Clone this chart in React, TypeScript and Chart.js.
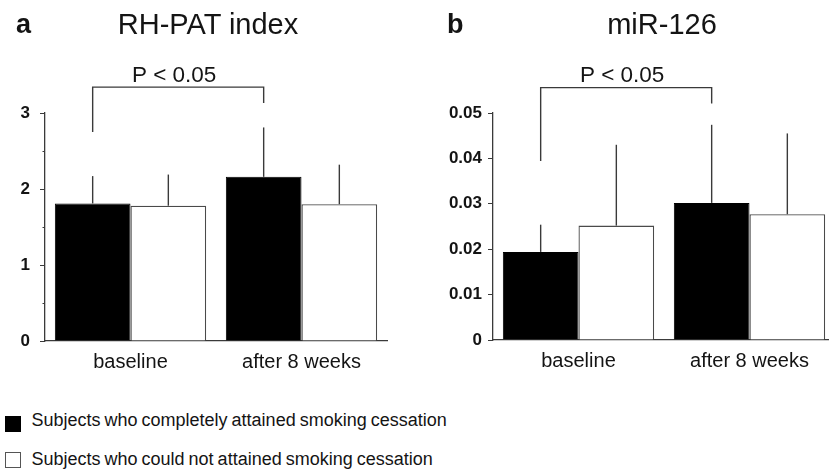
import React, { useEffect, useRef } from 'react';
import { Chart, registerables } from 'chart.js';

Chart.register(...registerables);

// ---------- data ----------
const categories = ['baseline', 'after 8 weeks'];
const seriesNames = [
  'Subjects who completely attained smoking cessation',
  'Subjects who could not attained smoking cessation',
];

// Panel a: RH-PAT index (mean, SD)
const rhpatCessation = [1.81, 2.16];
const rhpatCessationSD = [0.36, 0.65];
const rhpatNonCessation = [1.78, 1.8];
const rhpatNonCessationSD = [0.41, 0.52];
const rhpatAxis = [0, 3, 1]; // min, max, step
const rhpatMinorTicks = [0.5, 1.5, 2.5];
const rhpatBracket = [2.75, 3.34, 3.13]; // left leg end, bar, right leg end

// Panel b: miR-126 (mean, SD)
const mirCessation = [0.0194, 0.0302];
const mirCessationSD = [0.006, 0.0172];
const mirNonCessation = [0.0252, 0.0277];
const mirNonCessationSD = [0.0178, 0.0178];
const mirAxis = [0, 0.05, 0.01];
const mirMinorTicks: number[] = [];
const mirBracket = [0.0394, 0.0556, 0.0521];

const pLabel = 'P < 0.05';
const panelTitles = ['RH-PAT index', 'miR-126'];
const panelLetters = ['a', 'b'];

// ---------- styling ----------
const FONT = "'Liberation Sans', Arial, sans-serif";
const TEXT = '#141414';
const LINE = '#3a3a3a';

const errorBarPlugin = {
  id: 'errorBars',
  afterDatasetsDraw(chart: any) {
    const ctx = chart.ctx;
    const y = chart.scales.y;
    ctx.save();
    ctx.strokeStyle = LINE;
    ctx.lineWidth = 1.4;
    chart.data.datasets.forEach((ds: any, i: number) => {
      const meta = chart.getDatasetMeta(i);
      meta.data.forEach((el: any, j: number) => {
        const top = y.getPixelForValue(ds.data[j] + ds.errors[j]);
        ctx.beginPath();
        ctx.moveTo(el.x, el.y);
        ctx.lineTo(el.x, top);
        ctx.stroke();
      });
    });
    ctx.restore();
  },
};

const extrasPlugin = {
  id: 'extras',
  afterDraw(chart: any, _args: any, opts: any) {
    const ctx = chart.ctx;
    const y = chart.scales.y;
    const area = chart.chartArea;
    ctx.save();
    // minor ticks
    ctx.strokeStyle = LINE;
    ctx.lineWidth = 1;
    (opts.minor || []).forEach((v: number) => {
      const py = Math.round(y.getPixelForValue(v)) + 0.5;
      ctx.beginPath();
      ctx.moveTo(area.left - 2.5, py);
      ctx.lineTo(area.left, py);
      ctx.stroke();
    });
    // significance bracket between the two "cessation" bars
    const meta = chart.getDatasetMeta(0);
    const x1 = meta.data[0].x;
    const x2 = meta.data[1].x;
    const [l, t, r] = opts.bracket;
    const yl = y.getPixelForValue(l);
    const yt = y.getPixelForValue(t);
    const yr = y.getPixelForValue(r);
    ctx.lineWidth = 1.4;
    ctx.beginPath();
    ctx.moveTo(x1, yl);
    ctx.lineTo(x1, yt);
    ctx.lineTo(x2, yt);
    ctx.lineTo(x2, yr);
    ctx.stroke();
    ctx.fillStyle = TEXT;
    ctx.font = `22.5px ${FONT}`;
    ctx.textAlign = 'center';
    ctx.textBaseline = 'alphabetic';
    ctx.fillText(opts.label, (x1 + x2) / 2 - 4, yt - 5.5);
    ctx.restore();
  },
};

type PanelProps = {
  cess: number[];
  cessSD: number[];
  non: number[];
  nonSD: number[];
  axis: number[];
  minor: number[];
  bracket: number[];
  axisWidth: number;
  xAxisHeight: number;
  tickPad: number;
  width: number;
  height: number;
  left: number;
  decimals: number;
};

function Panel(p: PanelProps) {
  const ref = useRef<HTMLCanvasElement>(null);
  useEffect(() => {
    if (!ref.current) return;
    const chart = new Chart(ref.current, {
      type: 'bar',
      data: {
        labels: categories,
        datasets: [
          {
            label: seriesNames[0],
            data: p.cess,
            errors: p.cessSD,
            backgroundColor: '#000000',
            borderColor: '#000000',
            borderWidth: 1,
            barPercentage: 1,
            categoryPercentage: 0.885,
          } as any,
          {
            label: seriesNames[1],
            data: p.non,
            errors: p.nonSD,
            backgroundColor: '#ffffff',
            borderColor: '#4a4a4a',
            borderWidth: 1.3,
            barPercentage: 1,
            categoryPercentage: 0.885,
          } as any,
        ],
      },
      options: {
        responsive: false,
        animation: false,
        layout: { padding: { top: 113, left: 0, right: p.width - p.axisWidth - 342, bottom: 0 } },
        plugins: {
          legend: { display: false },
          tooltip: { enabled: false },
          title: { display: false },
          extras: { minor: p.minor, bracket: p.bracket, label: pLabel },
        } as any,
        scales: {
          x: {
            grid: { display: false, drawTicks: false },
            border: { display: true, color: LINE, width: 1.3 },
            ticks: { color: TEXT, font: { family: FONT, size: 20 }, padding: 9 },
            afterFit: (s: any) => {
              s.height = p.xAxisHeight;
            },
          },
          y: {
            min: p.axis[0],
            max: p.axis[1],
            grid: {
              display: true,
              drawOnChartArea: false,
              drawTicks: true,
              tickLength: 5,
              tickColor: LINE,
              tickWidth: 1,
            },
            border: { display: true, color: LINE, width: 1.3 },
            ticks: {
              stepSize: p.axis[2],
              color: TEXT,
              padding: p.tickPad,
              font: { family: FONT, size: 17, weight: 'bold' },
              callback: (v: any) => (Number(v) === 0 ? '0' : Number(v).toFixed(p.decimals)),
            },
            afterFit: (s: any) => {
              s.width = p.axisWidth;
            },
          },
        },
      },
      plugins: [errorBarPlugin, extrasPlugin],
    });
    return () => chart.destroy();
  }, []);
  return (
    <canvas
      ref={ref}
      width={p.width}
      height={p.height}
      style={{ position: 'absolute', left: p.left, top: 0, width: p.width, height: p.height }}
    />
  );
}

function Txt(props: { x: number; baseline: number; size: number; bold?: boolean; center?: boolean; children: any; w?: number }) {
  const { x, baseline, size, bold, center, w = 300 } = props;
  const top = baseline - 0.8465 * size;
  return (
    <div
      style={{
        position: 'absolute',
        left: center ? x - w / 2 : x,
        width: center ? w : undefined,
        top,
        fontFamily: FONT,
        fontSize: size,
        lineHeight: `${size}px`,
        fontWeight: bold ? 'bold' : 'normal',
        color: TEXT,
        textAlign: center ? 'center' : 'left',
        whiteSpace: 'nowrap',
      }}
    >
      {props.children}
    </div>
  );
}

export default function App() {
  return (
    <div
      style={{
        position: 'fixed',
        left: 0,
        top: 0,
        width: 829,
        height: 470,
        overflow: 'hidden',
        background: '#ffffff',
      }}
    >
      <Panel
        cess={rhpatCessation}
        cessSD={rhpatCessationSD}
        non={rhpatNonCessation}
        nonSD={rhpatNonCessationSD}
        axis={rhpatAxis}
        minor={rhpatMinorTicks}
        bracket={rhpatBracket}
        axisWidth={45}
        xAxisHeight={59}
        tickPad={10}
        width={400}
        height={400}
        left={0}
        decimals={0}
      />
      <Panel
        cess={mirCessation}
        cessSD={mirCessationSD}
        non={mirNonCessation}
        nonSD={mirNonCessationSD}
        axis={mirAxis}
        minor={mirMinorTicks}
        bracket={mirBracket}
        axisWidth={73}
        xAxisHeight={60}
        tickPad={6}
        width={420}
        height={400}
        left={420}
        decimals={2}
      />
      <Txt x={16} baseline={34} size={27} bold>
        {panelLetters[0]}
      </Txt>
      <Txt x={447} baseline={34} size={27} bold>
        {panelLetters[1]}
      </Txt>
      <Txt x={208} baseline={35} size={29} center>
        {panelTitles[0]}
      </Txt>
      <Txt x={662} baseline={35} size={29} center>
        {panelTitles[1]}
      </Txt>
      <div style={{ position: 'absolute', left: 5, top: 416, width: 16, height: 16, background: '#000' }} />
      <div
        style={{
          position: 'absolute',
          left: 5,
          top: 452,
          width: 14,
          height: 14,
          background: '#fff',
          border: '1px solid #555',
        }}
      />
      <div style={{ wordSpacing: '-1px' }}>
        <Txt x={31.5} baseline={426.7} size={18}>
          {seriesNames[0]}
        </Txt>
        <Txt x={31.5} baseline={465} size={18}>
          {seriesNames[1]}
        </Txt>
      </div>
    </div>
  );
}
